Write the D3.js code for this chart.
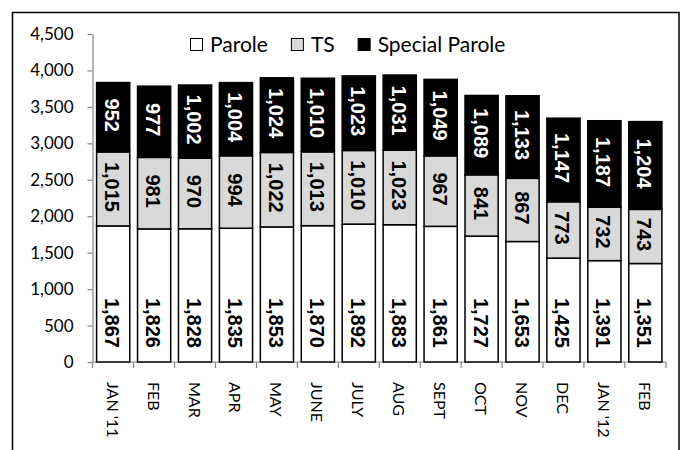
<!DOCTYPE html>
<html>
<head>
<meta charset="utf-8">
<script src="https://cdn.jsdelivr.net/npm/d3@7"></script>
<style>
  body { margin: 0; background: #fff; }
  svg { display: block; }
</style>
</head>
<body>
<div id="chart"></div>
<script>
// data
var months = ["JAN '11", "FEB", "MAR", "APR", "MAY", "JUNE", "JULY", "AUG", "SEPT", "OCT", "NOV", "DEC", "JAN '12", "FEB"];
var parole = [1867, 1826, 1828, 1835, 1853, 1870, 1892, 1883, 1861, 1727, 1653, 1425, 1391, 1351];
var ts = [1015, 981, 970, 994, 1022, 1013, 1010, 1023, 967, 841, 867, 773, 732, 743];
var specialParole = [952, 977, 1002, 1004, 1024, 1010, 1023, 1031, 1049, 1089, 1133, 1147, 1187, 1204];
var seriesNames = ['Parole', 'TS', 'Special Parole'];
var yTicks = [0, 500, 1000, 1500, 2000, 2500, 3000, 3500, 4000, 4500];

var width = 683, height = 450;
var fills = ['#ffffff', '#d9d9d9', '#000000'];
var textFills = ['#000', '#000', '#fff'];
var axisGrey = '#868686';
var uiFont = 'Lato, "Open Sans", sans-serif';
var labelFont = '"Liberation Sans", Arial, sans-serif';

var rows = months.map(function(m, i) {
  return { i: i, month: m, Parole: parole[i], TS: ts[i], 'Special Parole': specialParole[i] };
});

var svg = d3.select('#chart')
  .append('svg')
  .attr('width', width)
  .attr('height', height);

// outer frame (bottom runs off the picture)
svg.append('rect')
  .attr('x', 12.5).attr('y', 12.5)
  .attr('width', 666.5).attr('height', 460)
  .attr('fill', 'none')
  .attr('stroke', '#000')
  .attr('stroke-width', 1.5);

var x = d3.scaleBand()
  .domain(d3.range(months.length))
  .range([92.5, 666])
  .paddingInner(0.19)
  .paddingOuter(0.1);

var y = d3.scaleLinear()
  .domain([0, 4500])
  .range([362, 34]);

var stack = d3.stack().keys(seriesNames);
var layers = stack(rows);

// y axis
var yAxis = svg.append('g')
  .attr('transform', 'translate(92.5,0)')
  .call(d3.axisLeft(y).tickValues(yTicks).tickSize(5).tickSizeOuter(0).tickFormat(d3.format(',')));
yAxis.select('.domain').attr('stroke', axisGrey).attr('stroke-width', 1.2);
yAxis.selectAll('.tick line').attr('stroke', axisGrey).attr('stroke-width', 1.2);
yAxis.selectAll('.tick text')
  .attr('x', -19)
  .attr('font-family', uiFont)
  .attr('font-size', '17px')
  .attr('fill', '#000');

// x axis: ticks on band boundaries
var xAxisG = svg.append('g');
xAxisG.append('line')
  .attr('x1', 92.5).attr('x2', 666)
  .attr('y1', y(0)).attr('y2', y(0))
  .attr('stroke', axisGrey).attr('stroke-width', 1.2);
var bounds = d3.range(months.length + 1).map(function(i) {
  return i < months.length ? x(i) - x.step() * x.paddingInner() / 2 : 666;
});
bounds[0] = 92.5;
xAxisG.selectAll('line.tick')
  .data(bounds)
  .enter()
  .append('line')
  .attr('class', 'tick')
  .attr('x1', function(d) { return d; })
  .attr('x2', function(d) { return d; })
  .attr('y1', y(0))
  .attr('y2', y(0) + 6)
  .attr('stroke', axisGrey).attr('stroke-width', 1.2);

xAxisG.selectAll('text.month')
  .data(rows)
  .enter()
  .append('text')
  .attr('class', 'month')
  .attr('transform', function(d) {
    return 'translate(' + (x(d.i) + x.bandwidth() / 2) + ',382) rotate(90)';
  })
  .attr('dominant-baseline', 'central')
  .attr('font-family', uiFont)
  .attr('font-size', '16px')
  .text(function(d) { return d.month; });

// stacked bars
var layerG = svg.selectAll('g.layer')
  .data(layers)
  .enter()
  .append('g')
  .attr('class', 'layer');

layerG.selectAll('rect')
  .data(function(d) { return d; })
  .enter()
  .append('rect')
  .attr('x', function(d) { return x(d.data.i); })
  .attr('y', function(d) { return y(d[1]); })
  .attr('width', x.bandwidth())
  .attr('height', function(d) { return y(d[0]) - y(d[1]); })
  .attr('fill', function(d, i, nodes) { return fills[d3.select(nodes[i].parentNode).datum().index]; })
  .attr('stroke', '#000')
  .attr('stroke-width', 1.5);

// value labels, rotated to read downwards
layerG.each(function(layer) {
  var k = layer.index;
  d3.select(this).selectAll('text')
    .data(layer)
    .enter()
    .append('text')
    .attr('transform', function(d) {
      var cx = x(d.data.i) + x.bandwidth() / 2 - 1;
      var cy = k === 0 ? y(d[0]) - 14 : (y(d[0]) + y(d[1])) / 2 - 2;
      return 'translate(' + cx + ',' + cy + ') rotate(90)';
    })
    .attr('text-anchor', k === 0 ? 'end' : 'middle')
    .attr('dominant-baseline', 'central')
    .attr('font-family', labelFont)
    .attr('font-weight', 'bold')
    .attr('font-size', '20px')
    .attr('fill', textFills[k])
    .text(function(d) { return d3.format(',')(d.data[layer.key]); });
});

// legend
var legend = svg.append('g').attr('transform', 'translate(190,0)');
var lx = 0;
seriesNames.forEach(function(name, i) {
  legend.append('rect')
    .attr('x', lx + 0.5).attr('y', 38.5)
    .attr('width', 12).attr('height', 12)
    .attr('fill', fills[i])
    .attr('stroke', '#000')
    .attr('stroke-width', 1);
  var t = legend.append('text')
    .attr('x', lx + 20)
    .attr('y', 52)
    .attr('font-family', uiFont)
    .attr('font-size', '21px')
    .text(name);
  lx += 20 + t.node().getComputedTextLength() + 23;
});
</script>
</body>
</html>
